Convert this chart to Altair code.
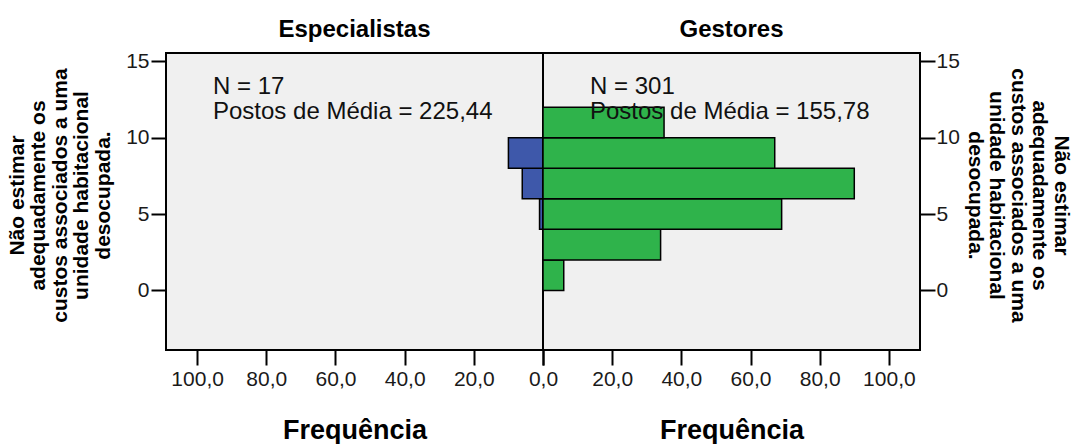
import altair as alt
import pandas as pd

# ---- data ----
bin_lo = [0, 2, 4, 6, 8, 10]
bin_hi = [2, 4, 6, 8, 10, 12]
especialistas = [0, 0, 1, 6, 10, 0]
gestores = [6, 34, 69, 90, 67, 35]
groups = ["Especialistas", "Gestores"]
counts = [especialistas, gestores]
n_values = ["17", "301"]
mean_ranks = ["225,44", "155,78"]
x_ticks = [0, 20, 40, 60, 80, 100]
y_ticks = [0, 5, 10, 15]
y_title = ["Não estimar", "adequadamente os", "custos associados a uma",
           "unidade habitacional", "desocupada."]
x_title = "Frequência"
colors = ["#3E58AA", "#2FB34B"]

FONT = "Liberation Sans"
W, H = 377, 297


def panel(i):
    left = i == 0
    df = pd.DataFrame({"lo": bin_lo, "hi": bin_hi, "count": counts[i]})
    df = df[df["count"] > 0]
    xscale = alt.Scale(domain=[0, 109], reverse=left, nice=False, zero=False)
    yscale = alt.Scale(domain=[-3.9, 15.55], nice=False, zero=False)
    if left:
        lab = "datum.value == 0 ? '' : replace(format(datum.value, '.1f'), '.', ',')"
    else:
        lab = "replace(format(datum.value, '.1f'), '.', ',')"
    xaxis = alt.Axis(
        values=x_ticks, labelExpr=lab,
        title=x_title, titleFont=FONT, titleFontSize=27, titleFontWeight="bold",
        titleColor="#000", titleY=88, titleBaseline="alphabetic",
        labelFont=FONT, labelFontSize=21, labelColor="#1a1a1a", labelPadding=3,
        tickSize=15, tickWidth=2, tickColor="#000", domain=False, grid=False,
        labelFlush=False, labelOverlap=False,
    )
    yaxis = alt.Axis(
        orient="left" if left else "right",
        values=y_ticks, format="d",
        title=y_title, titleFont=FONT, titleFontSize=21, titleFontWeight="bold",
        titleColor="#000", titleAngle=270 if left else 90,
        titleX=-143 if left else 134, titleY=142,
        titleAlign="center", titleBaseline="alphabetic", titleLineHeight=21.5,
        labelFont=FONT, labelFontSize=21, labelColor="#1a1a1a",
        labelPadding=2 if left else 1,
        tickSize=15, tickWidth=2, tickColor="#000", domain=False, grid=False,
        labelFlush=False, labelOverlap=False,
    )
    bars = alt.Chart(df).mark_rect(
        color=colors[i], stroke="#000", strokeWidth=1.5
    ).encode(
        x=alt.X("count:Q", scale=xscale, axis=xaxis),
        x2=alt.datum(0),
        y=alt.Y("lo:Q", scale=yscale, axis=yaxis),
        y2="hi:Q",
    )
    one = pd.DataFrame({"k": [0]})
    txt = alt.Chart(one).mark_text(
        align="left", baseline="alphabetic", font=FONT, fontSize=24,
        lineHeight=24.5, color="#111",
        text=[f"N = {n_values[i]}", f"Postos de Média = {mean_ranks[i]}"],
    ).encode(x=alt.value(47), y=alt.value(41))
    head = alt.Chart(one).mark_text(
        align="center", baseline="alphabetic", font=FONT, fontSize=24,
        fontWeight="bold", color="#000", text=groups[i],
    ).encode(x=alt.value(W / 2), y=alt.value(-16))
    return alt.layer(bars, txt, head).properties(width=W, height=H)


chart = alt.hconcat(panel(0), panel(1), spacing=0, bounds="flush").properties(
    padding={"left": 5, "right": 0, "top": 17, "bottom": 0},
    background="white",
).configure_view(
    fill="#F0F0F0", stroke="#000", strokeWidth=2
)

chart.save("out.html", embed_options={"renderer": "svg", "actions": False})
